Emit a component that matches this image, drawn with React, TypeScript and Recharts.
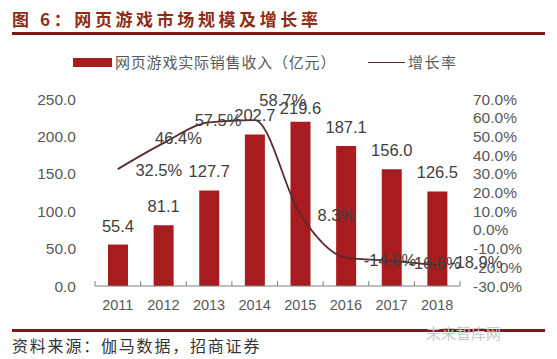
import React from 'react';
import { ComposedChart, Bar, Line, XAxis, YAxis, LabelList } from 'recharts';

const years = ['2011', '2012', '2013', '2014', '2015', '2016', '2017', '2018'];
const revenue = [55.4, 81.1, 127.7, 202.7, 219.6, 187.1, 156.0, 126.5];
const growth = [32.5, 46.4, 57.5, 58.7, 8.3, -14.8, -16.6, -18.9];
const leftTicks = [0, 50, 100, 150, 200, 250];
const rightTicks = [-30, -20, -10, 0, 10, 20, 30, 40, 50, 60, 70];

const titleText = '图 6：网页游戏市场规模及增长率';
const barName = '网页游戏实际销售收入（亿元）';
const lineName = '增长率';
const sourceText = '资料来源：伽马数据，招商证券';
const watermark = '未来智库网';

// label placement offsets (style only)
const growthLabelShift: [number, number][] = [
  [41, 1], [15, -5], [9, -2], [28, -20], [36, 1], [44, 2], [43, 2], [39, -3],
];

const data = years.map((y, i) => ({ year: y, revenue: revenue[i], growth: growth[i] }));

const W = 557;
const H = 359;
const margin = { top: 99, right: 17, bottom: 43, left: 15 };
const yAxisW = 80;
const plotW = W - margin.left - margin.right - yAxisW * 2;
const step = plotW / years.length;

const NUM_FONT = '"Liberation Sans", Arial, sans-serif';
const CJK_FONT = '"Noto Sans CJK SC", sans-serif';
const BAR_COLOR = '#A81B1E';
const LINE_COLOR = '#5A2A2C';
const TICK_COLOR = '#595959';

const XTick = (props: any) => {
  const { x, y, payload, index } = props;
  const left = x - step / 2;
  return (
    <g>
      <line x1={left} y1={y} x2={left} y2={y - 5} stroke="#7f7f7f" strokeWidth={1} />
      {index === years.length - 1 && (
        <line x1={x + step / 2} y1={y} x2={x + step / 2} y2={y - 5} stroke="#7f7f7f" strokeWidth={1} />
      )}
      <text x={x} y={y + 19} textAnchor="middle" dominantBaseline="central" fill={TICK_COLOR} fontSize={14.5} fontFamily={NUM_FONT}>
        {payload.value}
      </text>
    </g>
  );
};

const BarLabel = (props: any) => {
  const { x, y, width, value } = props;
  const cy = Math.max(y - 19, margin.top + 9);
  return (
    <text x={x + width / 2} y={cy} textAnchor="middle" dominantBaseline="central" fill="#404040" fontSize={16.5} fontFamily={NUM_FONT}>
      {Number(value).toFixed(1)}
    </text>
  );
};

const LineLabel = (props: any) => {
  const { x, y, value, index } = props;
  const [dx, dy] = growthLabelShift[index] || [0, 0];
  return (
    <text x={x + dx} y={y + dy} textAnchor="middle" dominantBaseline="central" fill="#404040" fontSize={16.5} fontFamily={NUM_FONT}>
      {`${Number(value).toFixed(1)}%`}
    </text>
  );
};

export default function App() {
  return (
    <div style={{ position: 'absolute', left: 0, top: 0, width: W, height: H, background: '#fff', overflow: 'hidden' }}>
      <div style={{ position: 'absolute', left: 12, top: 7, fontFamily: CJK_FONT, fontWeight: 700, fontSize: 17, letterSpacing: 3.6, color: '#8E2C16', lineHeight: '24px', whiteSpace: 'nowrap' }}>
        {titleText}
      </div>
      <div style={{ position: 'absolute', left: 12, top: 32, width: 533, height: 2.5, background: '#7A1A1C' }} />

      <div style={{ position: 'absolute', left: 73, top: 58, width: 39, height: 9, background: BAR_COLOR }} />
      <div style={{ position: 'absolute', left: 115, top: 51, fontFamily: CJK_FONT, fontSize: 15, color: TICK_COLOR, lineHeight: '22px', whiteSpace: 'nowrap', letterSpacing: 0.8 }}>
        {barName}
      </div>
      <div style={{ position: 'absolute', left: 368, top: 61.5, width: 37, height: 1.5, background: LINE_COLOR }} />
      <div style={{ position: 'absolute', left: 408, top: 51, fontFamily: CJK_FONT, fontSize: 15, color: TICK_COLOR, lineHeight: '22px', whiteSpace: 'nowrap', letterSpacing: 1.5 }}>
        {lineName}
      </div>

      <div style={{ position: 'absolute', left: 0, top: 0 }}>
        <ComposedChart width={W} height={H} data={data} margin={margin}>
          <XAxis
            dataKey="year"
            xAxisId="x"
            height={30}
            stroke="#7f7f7f"
            tickLine={false}
            tickSize={0}
            tickMargin={0}
            tick={<XTick />}
            interval={0}
          />
          <YAxis
            yAxisId="left"
            orientation="left"
            width={yAxisW}
            domain={[0, 250]}
            ticks={leftTicks}
            axisLine={false}
            tickLine={false}
            tickSize={0}
            tickMargin={19}
            tickFormatter={(v: number) => v.toFixed(1)}
            tick={{ fill: TICK_COLOR, fontSize: 15.5, fontFamily: NUM_FONT }}
            interval={0}
          />
          <YAxis
            yAxisId="right"
            orientation="right"
            width={yAxisW}
            domain={[-30, 70]}
            ticks={rightTicks}
            axisLine={false}
            tickLine={false}
            tickSize={0}
            tickMargin={13}
            tickFormatter={(v: number) => `${v.toFixed(1)}%`}
            tick={{ fill: TICK_COLOR, fontSize: 15.5, fontFamily: NUM_FONT }}
            interval={0}
          />
          <Bar dataKey="revenue" xAxisId="x" yAxisId="left" fill={BAR_COLOR} barSize={20} isAnimationActive={false}>
            <LabelList dataKey="revenue" content={<BarLabel />} />
          </Bar>
          <Line
            dataKey="growth"
            xAxisId="x"
            yAxisId="right"
            type="monotone"
            stroke={LINE_COLOR}
            strokeWidth={1.8}
            dot={false}
            isAnimationActive={false}
          >
            <LabelList dataKey="growth" content={<LineLabel />} />
          </Line>
        </ComposedChart>
      </div>

      <div style={{ position: 'absolute', left: 12, top: 329, width: 533, height: 2.5, background: '#7A1A1C' }} />
      <div style={{ position: 'absolute', left: 426, top: 323, fontFamily: CJK_FONT, fontSize: 15, color: '#c8c8c8', lineHeight: '20px', whiteSpace: 'nowrap' }}>
        {watermark}
      </div>
      <div style={{ position: 'absolute', left: 12, top: 334, fontFamily: CJK_FONT, fontSize: 16, color: '#333', lineHeight: '22px', whiteSpace: 'nowrap', letterSpacing: 1.8 }}>
        {sourceText}
      </div>
    </div>
  );
}
